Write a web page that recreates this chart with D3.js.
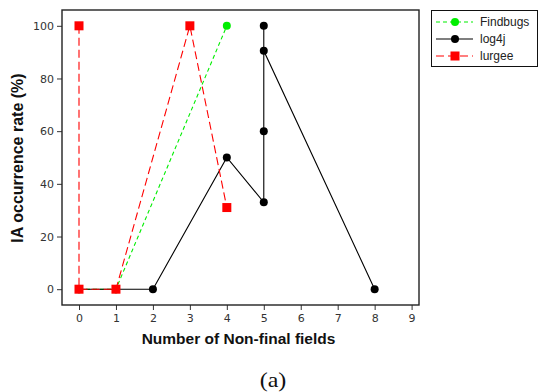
<!DOCTYPE html>
<head>
  <title>IA occurrence rate</title>
  <meta charset="utf-8">
  <script src="https://d3js.org/d3.v7.min.js"></script>
  <style>
    body { margin: 0; background: #fff; }
    .tick text { font-family: "DejaVu Sans", sans-serif; font-size: 11px; fill: #333; }
    .axis-title { font-family: "Liberation Sans", Arial, sans-serif; font-weight: bold; fill: #111; }
    .legend text { font-family: "Liberation Sans", Arial, sans-serif; font-size: 12px; fill: #222; }
  </style>
</head>
<body>
  <div class="container"></div>
  <script>
'use strict';
var width = 539;
var height = 392;

// data
var findbugsX = [0, 1, 4];
var findbugsY = [0, 0, 100];
var log4jX = [0, 1, 2, 4, 5, 5, 5, 5, 8];
var log4jY = [0, 0, 0, 50, 33, 60, 100, 90.5, 0];
var lurgeeX = [0, 0, 1, 3, 4];
var lurgeeY = [100, 0, 0, 100, 31];
var xTicks = [0, 1, 2, 3, 4, 5, 6, 7, 8, 9];
var yTicks = [0, 20, 40, 60, 80, 100];

var series = [
  { name: 'Findbugs', xs: findbugsX, ys: findbugsY, color: '#00ee00', dash: '4,3', marker: 'circle' },
  { name: 'log4j', xs: log4jX, ys: log4jY, color: '#000', dash: null, marker: 'circle' },
  { name: 'lurgee', xs: lurgeeX, ys: lurgeeY, color: '#ff0000', dash: '8,4', marker: 'square' }
];

var plot = { left: 62, right: 419, top: 10, bottom: 305 };

var svg = d3.select('.container')
  .append('svg')
  .attr('width', width)
  .attr('height', height);

var x = d3.scaleLinear().domain([-0.46, 9.2]).range([plot.left, plot.right]);
var y = d3.scaleLinear().domain([-6, 106]).range([plot.bottom, plot.top]);

// axes
var xAxis = svg.append('g')
  .attr('transform', 'translate(0,' + plot.bottom + ')')
  .call(d3.axisBottom(x).tickValues(xTicks).tickSize(5).tickPadding(4));
var yAxis = svg.append('g')
  .attr('transform', 'translate(' + plot.left + ',0)')
  .call(d3.axisLeft(y).tickValues(yTicks).tickSize(5).tickPadding(3));
[xAxis, yAxis].forEach(function (a) {
  a.select('.domain').remove();
  a.selectAll('.tick line').attr('stroke', '#333');
});

// frame
svg.append('rect')
  .attr('x', plot.left)
  .attr('y', plot.top)
  .attr('width', plot.right - plot.left)
  .attr('height', plot.bottom - plot.top)
  .attr('fill', 'none')
  .attr('stroke', '#222')
  .attr('stroke-width', 1.4);

var line = d3.line()
  .x(function (d) { return x(d[0]); })
  .y(function (d) { return y(d[1]); });

function drawMarker(g, kind, color, cx, cy) {
  if (kind === 'circle') {
    g.append('circle').attr('cx', cx).attr('cy', cy).attr('r', 4).attr('fill', color);
  } else {
    g.append('rect').attr('x', cx - 4.5).attr('y', cy - 4.5)
      .attr('width', 9).attr('height', 9).attr('fill', color);
  }
}

series.forEach(function (s) {
  var pts = s.xs.map(function (v, i) { return [v, s.ys[i]]; });
  var g = svg.append('g');
  g.append('path')
    .attr('d', line(pts))
    .attr('fill', 'none')
    .attr('stroke', s.color)
    .attr('stroke-width', 1.1)
    .attr('stroke-dasharray', s.dash);
  pts.forEach(function (p) {
    drawMarker(g, s.marker, s.color, x(p[0]), y(p[1]));
  });
});

// axis titles
svg.append('text')
  .attr('class', 'axis-title')
  .attr('x', 238.5)
  .attr('y', 344)
  .attr('font-size', 15.5)
  .attr('text-anchor', 'middle')
  .text('Number of Non-final fields');

svg.append('text')
  .attr('class', 'axis-title')
  .attr('font-size', 16)
  .attr('transform', 'translate(23,' + 158 + ') rotate(-90)')
  .attr('text-anchor', 'middle')
  .text('IA occurrence rate (%)');

// caption
svg.append('text')
  .attr('transform', 'translate(273,387) scale(1.2,1)')
  .attr('text-anchor', 'middle')
  .attr('font-family', '"Liberation Serif", "Times New Roman", serif')
  .attr('font-size', 20)
  .attr('fill', '#111')
  .text('(a)');

// legend
var legend = svg.append('g').attr('class', 'legend');
legend.append('rect')
  .attr('x', 431.5).attr('y', 10.5)
  .attr('width', 106).attr('height', 56)
  .attr('fill', '#fff').attr('stroke', '#111');

series.forEach(function (s, i) {
  var ly = 22 + i * 17;
  legend.append('line')
    .attr('x1', 436).attr('x2', 473)
    .attr('y1', ly).attr('y2', ly)
    .attr('stroke', s.color === '#000' ? '#555' : s.color)
    .attr('stroke-width', s.color === '#000' ? 1.6 : 1.1)
    .attr('stroke-dasharray', s.dash);
  drawMarker(legend, s.marker, s.color, 455, ly);
  legend.append('text')
    .attr('x', 480).attr('y', ly + 4)
    .text(s.name);
});
  </script>
</body>
